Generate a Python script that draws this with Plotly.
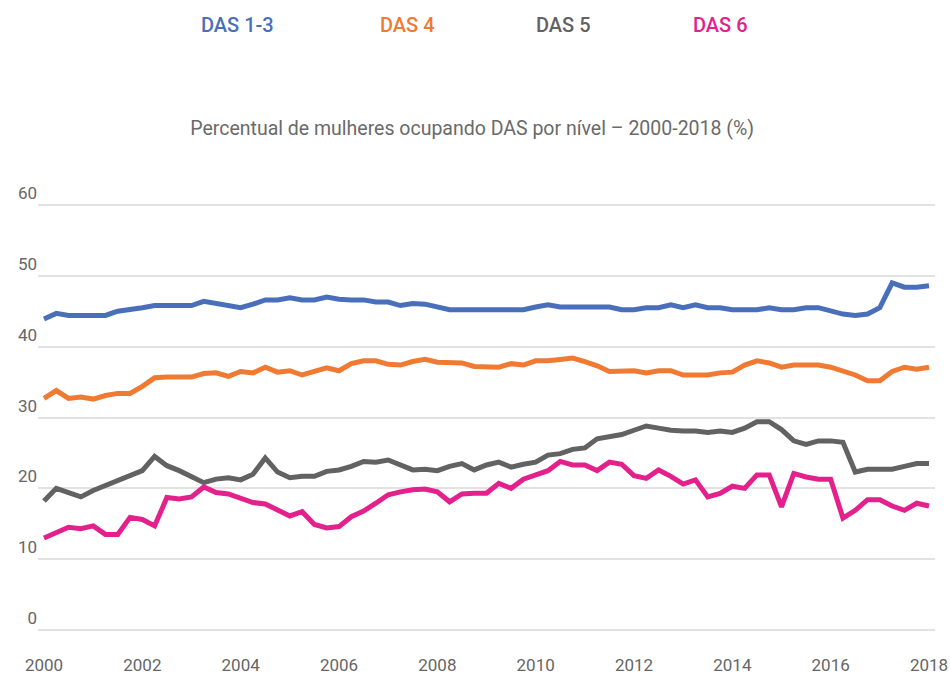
import plotly.graph_objects as go

# Quarterly observations, 2000 Q1 .. 2018 Q1
years = [2000 + i / 4 for i in range(73)]

das_1_3 = [43.9, 44.7, 44.4, 44.4, 44.4, 44.4, 45.0, 45.2, 45.5, 45.8, 45.8, 45.8, 45.8, 46.4, 46.1, 45.8,
           45.5, 46.0, 46.6, 46.6, 46.9, 46.6, 46.6, 47.0, 46.7, 46.6, 46.6, 46.3, 46.3, 45.8, 46.1, 46.0,
           45.6, 45.2, 45.2, 45.2, 45.2, 45.2, 45.2, 45.2, 45.6, 45.9, 45.6, 45.6, 45.6, 45.6, 45.6, 45.2,
           45.2, 45.5, 45.5, 45.9, 45.5, 45.9, 45.5, 45.5, 45.2, 45.2, 45.2, 45.5, 45.2, 45.2, 45.5, 45.5,
           45.0, 44.6, 44.4, 44.6, 45.5, 49.0, 48.4, 48.4, 48.6]

das_4 = [32.7, 33.8, 32.7, 32.9, 32.6, 33.1, 33.4, 33.4, 34.4, 35.6, 35.7, 35.7, 35.7, 36.2, 36.3, 35.8,
         36.5, 36.3, 37.1, 36.4, 36.6, 36.0, 36.5, 37.0, 36.6, 37.6, 38.0, 38.0, 37.5, 37.4, 37.9, 38.2,
         37.8, 37.7, 37.7, 37.2, 37.1, 37.1, 37.6, 37.4, 38.0, 38.0, 38.2, 38.4, 37.9, 37.3, 36.5, 36.6,
         36.6, 36.3, 36.6, 36.6, 36.0, 36.0, 36.0, 36.3, 36.4, 37.4, 38.0, 37.7, 37.1, 37.4, 37.4, 37.4,
         37.1, 36.6, 36.0, 35.2, 35.2, 36.5, 37.1, 36.8, 37.1]

das_5 = [18.2, 20.0, 19.4, 18.8, 19.7, 20.4, 21.0, 21.7, 22.5, 24.5, 23.2, 22.5, 21.6, 20.8, 21.3, 21.5,
         21.2, 22.0, 24.3, 22.3, 21.5, 21.7, 21.7, 22.4, 22.6, 23.1, 23.8, 23.7, 24.0, 23.3, 22.6, 22.7,
         22.5, 23.1, 23.5, 22.6, 23.3, 23.7, 23.0, 23.4, 23.7, 24.7, 24.9, 25.5, 25.7, 27.0, 27.3, 27.6,
         28.2, 28.8, 28.5, 28.2, 28.1, 28.1, 27.9, 28.1, 27.9, 28.5, 29.4, 29.4, 28.3, 26.7, 26.2, 26.7,
         26.7, 26.5, 22.3, 22.7, 22.7, 22.7, 23.1, 23.5, 23.5]

das_6 = [13.0, 13.7, 14.5, 14.3, 14.7, 13.5, 13.5, 15.9, 15.6, 14.7, 18.7, 18.5, 18.8, 20.2, 19.4, 19.2,
         18.6, 18.0, 17.8, 16.9, 16.1, 16.7, 14.9, 14.4, 14.6, 16.0, 16.8, 17.9, 19.1, 19.5, 19.8, 19.9,
         19.5, 18.1, 19.2, 19.3, 19.3, 20.7, 20.0, 21.3, 21.9, 22.5, 23.8, 23.3, 23.3, 22.5, 23.7, 23.4,
         21.8, 21.4, 22.6, 21.7, 20.6, 21.2, 18.8, 19.3, 20.3, 20.0, 21.9, 21.9, 17.4, 22.1, 21.6, 21.3,
         21.3, 15.8, 16.9, 18.4, 18.4, 17.5, 16.9, 17.9, 17.5]

series_names = ["DAS 1-3", "DAS 4", "DAS 5", "DAS 6"]
series_values = [das_1_3, das_4, das_5, das_6]
colors = ["#4a6fba", "#f07a32", "#626262", "#e3208b"]

x_ticks = [2000, 2002, 2004, 2006, 2008, 2010, 2012, 2014, 2016, 2018]
y_ticks = [0, 10, 20, 30, 40, 50, 60]

title_text = "Percentual de mulheres ocupando DAS por nível – 2000-2018 (%)"

FONT = "Roboto"

fig = go.Figure()
for name, vals, col in zip(series_names, series_values, colors):
    fig.add_trace(go.Scatter(x=years, y=vals, mode="lines", name=name,
                             line=dict(color=col, width=5), showlegend=False))

# legend as coloured text labels
legend_x = [0.2219, 0.4114, 0.5853, 0.7604]
for name, col, lx in zip(series_names, colors, legend_x):
    fig.add_annotation(x=lx, y=1.4023, xref="paper", yref="paper", text=name,
                       showarrow=False, xanchor="center", yanchor="middle",
                       font=dict(family=FONT, size=20, color=col, weight=500))

fig.update_layout(
    width=950, height=675,
    margin=dict(l=38, r=15, t=200, b=40, autoexpand=False),
    paper_bgcolor="white", plot_bgcolor="white",
    title=dict(text=title_text, x=0.497, xref="container", xanchor="center",
               y=1 - 128 / 675, yref="container", yanchor="middle",
               font=dict(family=FONT, size=19.5, color="#6a6a6a")),
    font=dict(family=FONT, color="#6a6a6a"),
    xaxis=dict(range=[1999.878, 2018.122], tickvals=x_ticks, showgrid=False,
               zeroline=False, showline=False, ticks="", ticklabelstandoff=18,
               automargin=False,
               tickfont=dict(family=FONT, size=17, color="#666666")),
    yaxis=dict(range=[-0.7, 60.7], tickvals=y_ticks, showgrid=True,
               gridcolor="#e2e2e2", gridwidth=1.5, zeroline=False, showline=False,
               ticks="", ticklabelposition="outside top", automargin=False,
               tickfont=dict(family=FONT, size=17, color="#666666")),
)

fig.write_html("out.html", config={"displayModeBar": False},
               post_script="document.body.style.margin='0';document.body.style.padding='0';")
